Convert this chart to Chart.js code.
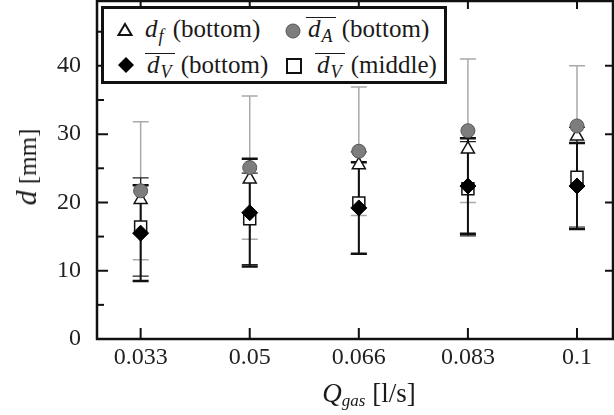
<!DOCTYPE html>
<html><head><meta charset="utf-8">
<script src="https://cdn.jsdelivr.net/npm/chart.js@4/dist/chart.umd.min.js"></script>
<style>
html,body{margin:0;padding:0;background:#fff;}
#wrap{position:relative;width:614px;height:415px;overflow:hidden;font-family:"Liberation Serif","Times New Roman",serif;color:#1a1a1a;}
#c{position:absolute;left:0;top:0;}
#legend{position:absolute;left:101px;top:6px;width:340px;height:72px;border:3px solid #111;background:#fff;}
.lt{position:absolute;font-size:25px;line-height:25px;white-space:nowrap;}
.lt sub{font-size:18px;vertical-align:-5px;line-height:0;margin-left:1px;margin-right:3px;}
.ov{display:inline-block;border-top:1.5px solid #1a1a1a;line-height:21px;padding-left:2px;}
.mk{position:absolute;}
#xt{position:absolute;left:369px;top:380px;transform:translateX(-50%);font-size:27px;line-height:27px;white-space:nowrap;}
#xt sub{font-size:17px;vertical-align:-4px;line-height:0;}
#yt{position:absolute;left:27px;top:167px;transform:translate(-50%,-50%) rotate(-90deg);font-size:25px;line-height:30px;white-space:nowrap;}
</style></head>
<body>
<div id="wrap">
<canvas id="c" width="614" height="415"></canvas>
<div id="legend"></div>
<div id="legendItems"></div>
<div id="xt"><i>Q</i><sub><i>gas</i></sub> [l/s]</div>
<div id="yt"><i style="font-size:30px">d</i> [mm]</div>
</div>
<script>
// ---- data ----
const categories = ['0.033', '0.05', '0.066', '0.083', '0.1'];
const yTickLabels = [0, 10, 20, 30, 40];
const dfBottom     = [20.4, 23.4, 25.5, 27.8, 29.7];
const dABottom     = [21.7, 25.1, 27.5, 30.5, 31.2];
const dABottomErr  = [10.1, 10.5, 9.4, 10.5, 8.8];
const dVBottom     = [15.5, 18.5, 19.2, 22.4, 22.4];
const dVBottomErr  = [7.0, 7.9, 6.7, 7.0, 6.3];
const dVMiddle     = [16.4, 17.6, 19.9, 22.0, 23.7];
const dVMiddleErr  = [7.2, 6.7, 7.5, 6.9, 7.3];

const pts = arr => arr.map((v, i) => ({x: i, y: v}));

const FONT = '"Liberation Serif","Times New Roman",serif';
Chart.defaults.font.family = FONT;

const errBars = {
  id: 'errBars',
  beforeDatasetsDraw(chart) {
    const {ctx, scales: {x, y}} = chart;
    const list = chart.data.datasets.filter(d => d.err).sort((a, b) => a.errZ - b.errZ);
    ctx.save();
    list.forEach(ds => {
      ds.data.forEach((p, i) => {
        const e = ds.err[i];
        const px = x.getPixelForValue(p.x);
        const top = y.getPixelForValue(p.y + e);
        const bot = y.getPixelForValue(p.y - e);
        ctx.strokeStyle = ds.errColor;
        ctx.lineWidth = ds.errWidth;
        ctx.beginPath();
        ctx.moveTo(px, top); ctx.lineTo(px, bot);
        ctx.stroke();
        ctx.lineWidth = ds.capWidth;
        ctx.beginPath();
        ctx.moveTo(px - 8, top); ctx.lineTo(px + 8, top);
        ctx.moveTo(px - 8, bot); ctx.lineTo(px + 8, bot);
        ctx.stroke();
      });
    });
    ctx.restore();
  }
};

const frame = {
  id: 'frame',
  beforeDatasetsDraw(chart) {
    const {ctx, chartArea: a, scales: {x, y}} = chart;
    ctx.save();
    ctx.strokeStyle = '#111';
    ctx.lineWidth = 2;
    categories.forEach((c, i) => {
      const px = x.getPixelForValue(i);
      ctx.beginPath();
      ctx.moveTo(px, a.bottom); ctx.lineTo(px, a.bottom - 11);
      ctx.moveTo(px, a.top); ctx.lineTo(px, a.top + 8);
      ctx.stroke();
    });
    for (let v = 5; v < y.max; v += 5) {
      const py = y.getPixelForValue(v);
      const major = v % 10 === 0;
      ctx.beginPath();
      ctx.moveTo(a.left, py); ctx.lineTo(a.left + (major ? 11 : 7), py);
      if (major) { ctx.moveTo(a.right, py); ctx.lineTo(a.right - 8, py); }
      ctx.stroke();
    }
    ctx.lineWidth = 2.5;
    ctx.beginPath();
    ctx.rect(a.left, a.top, a.right - a.left, a.bottom - a.top);
    ctx.stroke();
    ctx.restore();
  }
};

const datasets = [
  {label: 'dA_bottom', data: pts(dABottom), err: dABottomErr, errZ: 0, errColor: '#a9a9a9', errWidth: 1.5, capWidth: 1.5,
   pointStyle: 'circle', pointRadius: 7, backgroundColor: '#7d7d7d', borderColor: '#555', borderWidth: 1, order: 1},
  {label: 'dV_bottom', data: pts(dVBottom), err: dVBottomErr, errZ: 2, errColor: '#111', errWidth: 2, capWidth: 2.5,
   pointStyle: 'rectRot', pointRadius: 8, backgroundColor: '#000', borderColor: '#000', borderWidth: 1, order: 2},
  {label: 'df_bottom', data: pts(dfBottom),
   pointStyle: 'triangle', pointRadius: 7.5, backgroundColor: '#fff', borderColor: '#111', borderWidth: 1.5, order: 3},
  {label: 'dV_middle', data: pts(dVMiddle), err: dVMiddleErr, errZ: 1, errColor: '#222', errWidth: 1.2, capWidth: 1.2,
   pointStyle: 'rect', pointRadius: 8.5, backgroundColor: '#fff', borderColor: '#111', borderWidth: 1.5, order: 4}
];
datasets.forEach(d => { d.showLine = false; d.pointHoverRadius = d.pointRadius; });

new Chart(document.getElementById('c'), {
  type: 'scatter',
  data: {datasets},
  plugins: [frame, errBars],
  options: {
    responsive: false,
    animation: false,
    events: [],
    layout: {autoPadding: false, padding: {top: 1, right: 1, left: 0, bottom: 0}},
    plugins: {legend: {display: false}, tooltip: {enabled: false}},
    scales: {
      x: {
        type: 'linear', min: -0.4, max: 4.33,
        afterBuildTicks: s => { s.ticks = categories.map((c, i) => ({value: i})); },
        afterFit: s => { s.height = 76; s.paddingLeft = 0; s.paddingRight = 0; },
        grid: {display: false}, border: {display: false},
        ticks: {callback: v => categories[v], font: {size: 24, family: FONT}, color: '#222', padding: -4, maxRotation: 0, autoSkip: false}
      },
      y: {
        min: 0, max: 49.5,
        afterBuildTicks: s => { s.ticks = yTickLabels.map(v => ({value: v})); },
        afterFit: s => { s.width = 97; s.paddingTop = 0; s.paddingBottom = 0; },
        grid: {display: false}, border: {display: false},
        ticks: {callback: v => String(v), font: {size: 24, family: FONT}, color: '#222', padding: 8}
      }
    }
  }
});

// ---- HTML legend (real text with subscripts / overlines) ----
const legendDefs = [
  {html: '<i>d</i><sub><i>f</i></sub> (bottom)', left: 145, top: 16, mk: 'tri', cx: 125, cy: 30},
  {html: '<span class="ov"><i>d</i><sub><i>A</i></sub></span> (bottom)', left: 306, top: 16, mk: 'circ', cx: 293, cy: 31},
  {html: '<span class="ov"><i>d</i><sub><i>V</i></sub></span> (bottom)', left: 145, top: 52, mk: 'dia', cx: 126, cy: 65},
  {html: '<span class="ov"><i>d</i><sub><i>V</i></sub></span> (middle)', left: 315, top: 52, mk: 'sq', cx: 294, cy: 66}
];
const svgs = {
  tri: '<svg width="18" height="18"><polygon points="9,3 15.5,14 2.5,14" fill="#fff" stroke="#111" stroke-width="2"/></svg>',
  circ: '<svg width="18" height="18"><circle cx="9" cy="9" r="7" fill="#7d7d7d" stroke="#555" stroke-width="1"/></svg>',
  dia: '<svg width="18" height="18"><polygon points="9,1 17,9 9,17 1,9" fill="#000"/></svg>',
  sq: '<svg width="18" height="18"><rect x="2" y="2" width="14" height="14" fill="#fff" stroke="#111" stroke-width="2"/></svg>'
};
const li = document.getElementById('legendItems');
legendDefs.forEach(d => {
  const m = document.createElement('div');
  m.className = 'mk'; m.style.left = (d.cx - 9) + 'px'; m.style.top = (d.cy - 9) + 'px';
  m.innerHTML = svgs[d.mk];
  li.appendChild(m);
  const t = document.createElement('div');
  t.className = 'lt'; t.style.left = d.left + 'px'; t.style.top = d.top + 'px';
  t.innerHTML = d.html;
  li.appendChild(t);
});
</script>
</body></html>
